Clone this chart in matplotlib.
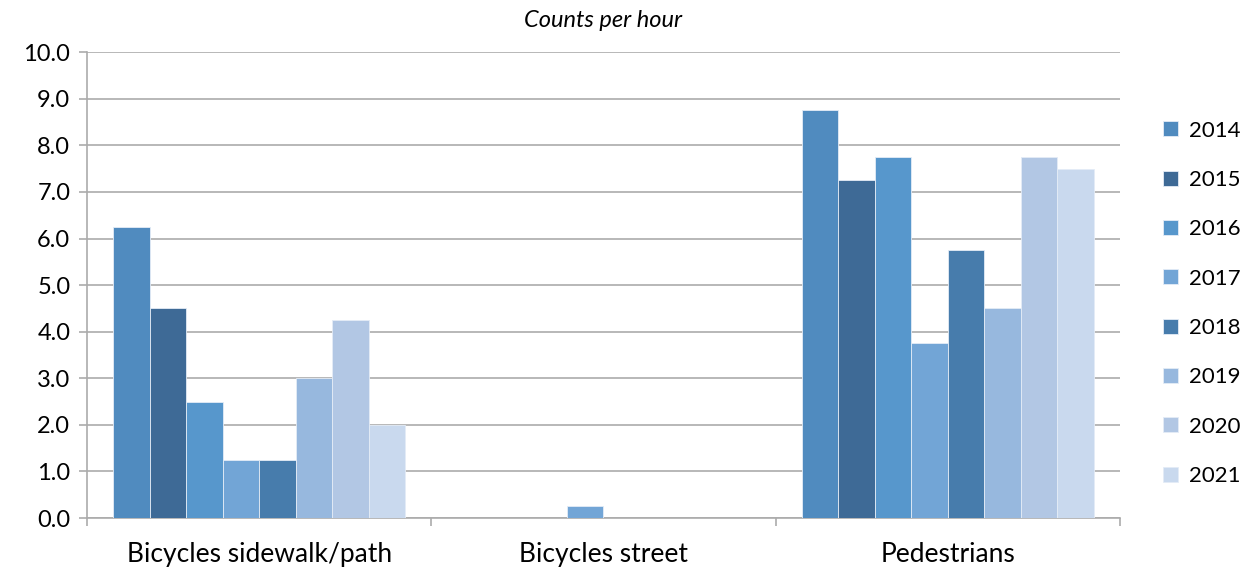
import matplotlib
matplotlib.use("Agg")
import matplotlib.pyplot as plt
import numpy as np

plt.rcParams['font.family'] = ['Lato', 'DejaVu Sans']

categories = ['Bicycles sidewalk/path', 'Bicycles street', 'Pedestrians']
years = ['2014', '2015', '2016', '2017', '2018', '2019', '2020', '2021']
v2014 = [6.25, 0.0, 8.75]
v2015 = [4.5, 0.0, 7.25]
v2016 = [2.5, 0.0, 7.75]
v2017 = [1.25, 0.25, 3.75]
v2018 = [1.25, 0.0, 5.75]
v2019 = [3.0, 0.0, 4.5]
v2020 = [4.25, 0.0, 7.75]
v2021 = [2.0, 0.0, 7.5]
series = [v2014, v2015, v2016, v2017, v2018, v2019, v2020, v2021]
colors = ['#508BBF', '#3E6A96', '#5797CC', '#72A5D6',
          '#477CAC', '#97B8DE', '#B2C7E4', '#C9D9EE']

fig = plt.figure(figsize=[12.57, 5.67], dpi=100)
ax = fig.add_axes([0.0692, 0.0864, 0.8218, 0.8216])

x = np.arange(len(categories))
bw = 0.106
for i, vals in enumerate(series):
    ax.bar(x + (i - 3.5) * bw, vals, bw, color=colors[i], label=years[i],
           edgecolor='#E4ECF6', linewidth=0.6, zorder=3)

ax.set_xlim(-0.5, 2.5)
ax.set_ylim(0, 10)
ax.set_yticks(np.arange(0, 10.1, 1.0))
ax.set_yticklabels(['%.1f' % t for t in np.arange(0, 10.1, 1.0)], fontsize=17)
ax.yaxis.grid(True, color='#ABABAB', linewidth=1.2, zorder=0)
ax.set_xticks([-0.5, 0.5, 1.5, 2.5])
ax.set_xticklabels([])
ax.set_xticks(x, minor=True)
ax.set_xticklabels(categories, minor=True, fontsize=19)
ax.tick_params(axis='x', which='minor', length=0, pad=17)
ax.tick_params(axis='x', which='major', length=6, color='#ABABAB', width=1.2)
ax.tick_params(axis='y', length=6, color='#ABABAB', width=1.2, pad=6)
for s in ['top', 'right']:
    ax.spines[s].set_visible(False)
for s in ['left', 'bottom']:
    ax.spines[s].set_color('#ABABAB')
    ax.spines[s].set_linewidth(1.2)

ax.set_title('Counts per hour', fontsize=17, style='italic', pad=18)

fig.legend(loc='center left', bbox_to_anchor=(0.922, 0.465), frameon=False,
           fontsize=16, labelspacing=1.32, handlelength=0.65, handleheight=0.65,
           handletextpad=0.5, borderaxespad=0, borderpad=0.2)

fig.savefig('out.png', dpi=100)
